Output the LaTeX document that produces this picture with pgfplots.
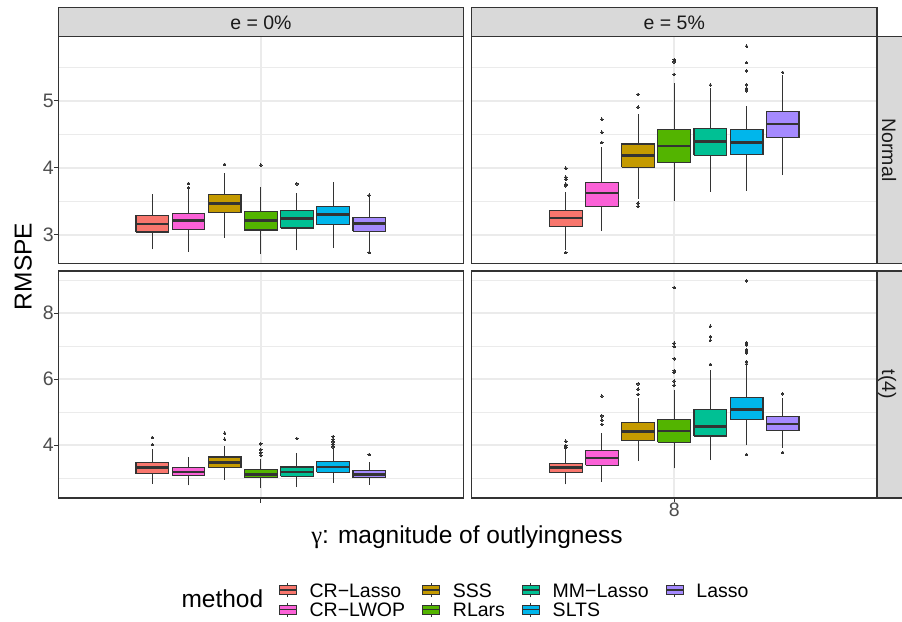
\documentclass[border=0pt]{standalone}
\usepackage{pgfplots}
\pgfplotsset{compat=1.18}
\usepackage{fontspec}
\setmainfont{Liberation Sans}
\newfontfamily\gammafont{Liberation Serif}
\definecolor{gray10}{HTML}{1A1A1A}
\definecolor{gray20}{HTML}{333333}
\definecolor{gray30}{HTML}{4D4D4D}
\definecolor{gray85}{HTML}{D9D9D9}
\definecolor{gray92}{HTML}{EBEBEB}
\definecolor{cCRL}{HTML}{F8766D}
\definecolor{cLWOP}{HTML}{FB61D7}
\definecolor{cSSS}{HTML}{C49A00}
\definecolor{cRL}{HTML}{53B400}
\definecolor{cMM}{HTML}{00C094}
\definecolor{cSLTS}{HTML}{00B6EB}
\definecolor{cLas}{HTML}{A58AFF}
\newcommand{\fs}{\fontsize{19.5}{23}\selectfont}
\newcommand{\ft}{\fontsize{24.5}{29}\selectfont}

% box: colour, position, lower whisker, lower quartile, median, upper quartile, upper whisker
\newcommand{\boxe}[7]{%
  \pgfmathsetmacro\xl{#2-0.0485}\pgfmathsetmacro\xr{#2+0.0485}%
  \addplot[draw=gray20, line width=1.1pt] coordinates {(#2,#6) (#2,#7)};
  \addplot[draw=gray20, line width=1.1pt] coordinates {(#2,#3) (#2,#4)};
  \addplot[fill=#1, draw=gray20, line width=1.2pt, line cap=square]
    coordinates {(\xl,#4) (\xr,#4) (\xr,#6) (\xl,#6) (\xl,#4)};
  \addplot[draw=gray20, line width=2.6pt] coordinates {(\xl,#5) (\xr,#5)};
}
% same, with outliers (#8)
\newcommand{\boxo}[8]{%
  \boxe{#1}{#2}{#3}{#4}{#5}{#6}{#7}
  \addplot[only marks, mark=*, mark size=1.3pt, draw=gray20, fill=gray20, line width=0pt]
    table[row sep=\\, x expr=#2, y index=0] {y\\ #8};
}

\pgfplotsset{
  panel/.style={
    scale only axis, width=405pt, height=227pt,
    xmin=0.4, xmax=1.6, xtick={1},
    axis line style={draw=gray20, line width=1.3pt},
    tick align=outside, major tick length=4.5pt, minor tick length=0pt,
    tick style={draw=gray20, line width=1.1pt},
    tick pos=left,
    xmajorgrids, ymajorgrids, yminorgrids,
    major grid style={draw=gray92, line width=1.6pt},
    minor grid style={draw=gray92, line width=0.8pt},
    tick label style={font=\fs, text=gray30},
    yticklabel style={anchor=east, inner sep=0pt},
    xticklabel style={anchor=north, inner sep=0pt},
    /pgf/number format/assume math mode=true,
  },
  toprow/.style={ymin=2.57, ymax=5.96, ytick={3,4,5}, minor ytick={3.5,4.5,5.5},
    xticklabels={}, xtick style={draw=none}},
  botrow/.style={ymin=2.4, ymax=9.28, ytick={4,6,8}, minor ytick={3,5,7,9}},
  rightcol/.style={yticklabels={}, ytick style={draw=none}},
  keybox/.style={legend image code/.code={
    \draw[line width=1.1pt, draw=gray20] (8.5pt,-5pt) -- (8.5pt,-2.5pt) (8.5pt,6.5pt) -- (8.5pt,9pt);
    \draw[line width=1.1pt, draw=gray20] (0pt,-2.5pt) rectangle (17pt,6.5pt);
    \draw[line width=1.6pt, draw=gray20] (0pt,2pt) -- (17pt,2pt);
  }},
}

\begin{document}
\begin{tikzpicture}
\path[use as bounding box] (0,0) rectangle (902pt,621pt);
% strips
\draw[fill=gray85, draw=gray20, line width=1.3pt] (58.3pt,584.5pt) rectangle (463.5pt,613.5pt);
\draw[fill=gray85, draw=gray20, line width=1.3pt] (471.7pt,584.5pt) rectangle (877pt,613.5pt);
\draw[fill=gray85, draw=gray20, line width=1.3pt] (877pt,357.5pt) rectangle (908pt,584.5pt);
\draw[fill=gray85, draw=gray20, line width=1.3pt] (877pt,123pt) rectangle (908pt,350pt);
\node[font=\fs, text=gray10, anchor=base] at (260.9pt,591pt) {e = 0\%};
\node[font=\fs, text=gray10, anchor=base] at (674.3pt,591pt) {e = 5\%};
\node[font=\fs, text=gray10, anchor=base, rotate=-90] at (882pt,471pt) {Normal};
\node[font=\fs, text=gray10, anchor=base, rotate=-90] at (882pt,236.5pt) {t(4)};
% titles
\node[font=\ft, anchor=base, rotate=90] at (31.5pt,354.5pt) {RMSPE};
\node[font=\ft, anchor=base] at (467pt,77pt) {{\gammafont γ}: magnitude of outlyingness};
\node[font=\ft, anchor=base west] at (178pt,13.7pt) {method};

% top-left: Normal, e = 0%
\begin{axis}[panel, toprow, at={(58.3pt,357.5pt)}, anchor=south west]
\boxe{cCRL}{0.6786}{2.78}{3.04}{3.16}{3.29}{3.615}
\boxo{cLWOP}{0.7857}{2.745}{3.08}{3.215}{3.32}{3.68}{3.70\\ 3.765\\}
\boxo{cSSS}{0.8929}{2.955}{3.335}{3.47}{3.60}{3.915}{4.05\\}
\boxo{cRL}{1.0}{2.71}{3.07}{3.21}{3.35}{3.71}{4.04\\}
\boxo{cMM}{1.1071}{2.765}{3.10}{3.24}{3.36}{3.63}{3.76\\}
\boxe{cSLTS}{1.2143}{2.80}{3.15}{3.30}{3.42}{3.78}
\boxo{cLas}{1.3214}{2.76}{3.05}{3.165}{3.26}{3.56}{3.59\\ 2.735\\}
\end{axis}

% top-right: Normal, e = 5%
\begin{axis}[panel, toprow, rightcol, at={(471.7pt,357.5pt)}, anchor=south west]
\boxo{cCRL}{0.6786}{2.77}{3.12}{3.25}{3.36}{3.635}{2.735\\ 3.73\\ 3.755\\ 3.83\\ 3.86\\ 3.995\\}
\boxo{cLWOP}{0.7857}{3.055}{3.42}{3.62}{3.785}{4.305}{4.375\\ 4.53\\ 4.725\\}
\boxo{cSSS}{0.8929}{3.54}{4.005}{4.185}{4.355}{4.80}{3.47\\ 3.425\\ 4.905\\ 5.095\\}
\boxo{cRL}{1.0}{3.50}{4.075}{4.325}{4.575}{5.265}{5.395\\ 5.58\\ 5.615\\}
\boxo{cMM}{1.1071}{3.64}{4.185}{4.39}{4.59}{5.19}{5.235\\}
\boxo{cSLTS}{1.2143}{3.655}{4.195}{4.375}{4.575}{4.925}{5.15\\ 5.185\\ 5.24\\ 5.445\\ 5.57\\ 5.815\\}
\boxo{cLas}{1.3214}{3.89}{4.455}{4.655}{4.84}{5.39}{5.425\\}
\end{axis}

% bottom-left: t(4), e = 0%
\begin{axis}[panel, botrow, xticklabels={}, at={(58.3pt,123pt)}, anchor=south west,
  legend columns=4, legend cell align=left,
  legend style={draw=none, fill=none, inner sep=0pt, outer sep=0pt,
    at={(axis description cs:0.5437,-0.3731)}, anchor=north west, font=\fs,
    nodes={inner sep=0pt, text height=14pt, text depth=4.2pt}, row sep=0.8pt,
    /tikz/every odd column/.style={column sep=12.5pt},
    /tikz/every even column/.style={column sep=16.7pt}}]
\addlegendimage{keybox, fill=cCRL}\addlegendentry{CR−Lasso}
\addlegendimage{keybox, fill=cSSS}\addlegendentry{SSS}
\addlegendimage{keybox, fill=cMM}\addlegendentry{MM−Lasso}
\addlegendimage{keybox, fill=cLas}\addlegendentry{Lasso}
\addlegendimage{keybox, fill=cLWOP}\addlegendentry{CR−LWOP}
\addlegendimage{keybox, fill=cRL}\addlegendentry{RLars}
\addlegendimage{keybox, fill=cSLTS}\addlegendentry{SLTS}
\boxo{cCRL}{0.6786}{2.83}{3.14}{3.33}{3.475}{3.90}{4.02\\ 4.235\\}
\boxe{cLWOP}{0.7857}{2.78}{3.07}{3.19}{3.33}{3.63}
\boxo{cSSS}{0.8929}{2.96}{3.33}{3.475}{3.64}{3.97}{4.18\\ 4.365\\}
\boxo{cRL}{1.0}{2.71}{3.01}{3.12}{3.26}{3.595}{3.70\\ 3.77\\ 3.86\\ 4.04\\}
\boxo{cMM}{1.1071}{2.73}{3.06}{3.19}{3.34}{3.77}{4.20\\}
\boxo{cSLTS}{1.2143}{2.86}{3.18}{3.34}{3.505}{3.87}{3.95\\ 4.03\\ 4.10\\ 4.18\\ 4.265\\}
\boxo{cLas}{1.3214}{2.795}{3.01}{3.12}{3.23}{3.485}{3.72\\}
\end{axis}

% bottom-right: t(4), e = 5%
\begin{axis}[panel, botrow, rightcol, xticklabels={8}, at={(471.7pt,123pt)}, anchor=south west]
\boxo{cCRL}{0.6786}{2.815}{3.17}{3.325}{3.455}{3.87}{3.93\\ 3.99\\ 4.12\\}
\boxo{cLWOP}{0.7857}{2.885}{3.39}{3.615}{3.84}{4.375}{4.63\\ 4.76\\ 4.89\\ 5.49\\}
\boxo{cSSS}{0.8929}{3.515}{4.14}{4.415}{4.69}{5.44}{5.54\\ 5.70\\ 5.86\\}
\boxo{cRL}{1.0}{3.30}{4.09}{4.435}{4.78}{5.67}{5.82\\ 5.945\\ 6.21\\ 6.26\\ 6.62\\ 6.99\\ 7.09\\ 8.78\\}
\boxo{cMM}{1.1071}{3.545}{4.28}{4.56}{5.085}{6.28}{6.45\\ 7.18\\ 7.29\\ 7.605\\}
\boxo{cSLTS}{1.2143}{4.0}{4.79}{5.085}{5.44}{6.40}{3.72\\ 6.46\\ 6.53\\ 6.80\\ 6.85\\ 6.90\\ 7.04\\ 7.11\\ 8.98\\}
\boxo{cLas}{1.3214}{3.92}{4.45}{4.645}{4.87}{5.42}{3.78\\ 5.56\\}
\end{axis}
\end{tikzpicture}
\end{document}
